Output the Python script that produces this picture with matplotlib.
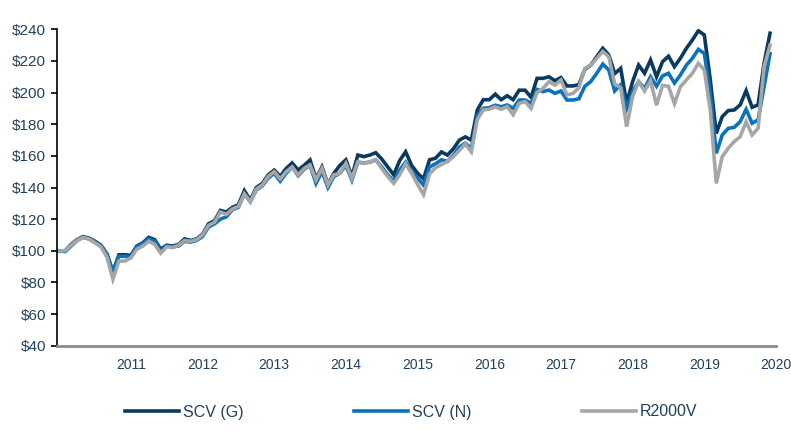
import numpy as np
import matplotlib
matplotlib.use('Agg')
import matplotlib.pyplot as plt

# growth of $100, monthly
scv_g = [100, 100, 104, 107, 109, 108, 106, 103.5, 98, 86.5,
         97.5, 97.5, 97, 103, 105, 108.5, 107, 101, 103.5, 103,
         104, 107.5, 106.5, 107.5, 110.5, 117, 119, 125.5, 124.5, 127.5,
         129, 138, 132, 140, 142.5, 148, 151, 147, 152, 155.5,
         151, 154, 157.4, 145.5, 153, 142, 149, 154, 157.5, 147,
         160.5, 159.5, 160.5, 162, 158, 153, 148, 157, 162.6, 154,
         149, 145.5, 157.5, 158.5, 162.5, 160.5, 164.5, 170, 172, 170,
         189, 195.5, 195.5, 199, 195.5, 198, 195.5, 201.5, 201.5, 197,
         209, 209, 210, 207.5, 209.5, 204.2, 204.2, 205, 214.7, 217.4,
         222.7, 228, 223.8, 212, 215.3, 193.2, 207, 217.4, 212.2, 220.6,
         210, 219.5, 223, 216.4, 221.7, 228, 233.2, 239.1, 236.4, 208,
         174.2, 184.8, 188.6, 189, 192.2, 201.2, 190.7, 192.2, 218.5, 237.5]

scv_n = [100, 99.5, 103, 106.5, 108.5, 107.5, 105.5, 103, 97.5, 87,
         96.5, 96.5, 96, 102.5, 104.5, 107.5, 106, 100, 103, 102.5,
         103, 106, 105.5, 106.5, 109, 115, 117, 120, 121.5, 126,
         127.5, 136, 131, 138.5, 141, 146, 149, 144, 149, 153,
         147.5, 151.5, 154, 142.6, 150, 140, 147, 149, 154, 144.7,
         156, 155.5, 156, 157.5, 153, 148, 144, 151, 156, 150,
         146, 141.5, 153, 155, 157.5, 156.5, 160.5, 165.5, 168, 164.5,
         185.5, 190, 190.5, 192, 191, 192.2, 190, 195.3, 195.3, 193.2,
         202, 200.6, 201.6, 199.5, 201, 195.3, 195.3, 196, 204, 207,
         212.2, 218, 214.3, 201, 205, 190, 200.6, 206.9, 202.7, 210,
         204, 210.5, 212.2, 206, 211.1, 217.4, 221.6, 227.3, 224.8, 199.5,
         161.6, 173.2, 177.4, 178, 181.6, 189.4, 180.6, 182.7, 203.7, 224.6]

r2000v = [100, 100, 103.5, 106.5, 108.5, 107.5, 105, 102.5, 96, 82,
          93.5, 93.5, 95.5, 101, 103, 106, 104, 98.5, 102.5, 102,
          103.5, 106.5, 106, 107, 110, 116, 118, 124.5, 123, 126.5,
          128, 136, 131, 139, 141.5, 147, 150, 145.5, 150, 153,
          148, 152, 154.2, 144.8, 152, 141.6, 148, 149, 155.3, 145.8,
          156.3, 155.3, 156.3, 157.4, 152, 147, 142.6, 148, 155, 149,
          142, 135.5, 148.5, 152.5, 154.5, 156.5, 159.5, 163.5, 167.5, 162.5,
          183, 189, 189.5, 191, 189.5, 191.1, 186, 193.2, 194.3, 190,
          200, 202.7, 206.9, 204.8, 208, 198.5, 199.5, 203, 215.3, 217.4,
          221.6, 226, 222.7, 205.5, 203, 178.5, 197.4, 206.9, 201, 207.5,
          192, 204.5, 204, 193, 203.7, 208, 212.2, 218.5, 214.3, 189,
          142.6, 159.5, 164.8, 169, 172.1, 181.6, 173.2, 177.4, 216.4, 230]

years = list(range(2011, 2021))
labels = ['SCV (G)', 'SCV (N)', 'R2000V']
colors = ['#0b3a5e', '#0b72bb', '#a6a6a6']

t = 2010 + np.arange(len(scv_g)) / 12.0
txtColor = '#23405f'
plt.rcParams['font.family'] = ['Liberation Sans', 'DejaVu Sans']

fig = plt.figure(figsize=(7.91, 4.38), dpi=100)
ax = fig.add_axes([57/791, 1 - 345.7/438, (776 - 57)/791, (345.7 - 29.3)/438])

# dark first, gray on top
for series, lab, col in zip([scv_g, scv_n, r2000v], labels, colors):
    ax.plot(t, series, color=col, lw=2.6, label=lab, solid_joinstyle='miter')

ax.set_xlim(2009.97, 2020.0)
ax.set_ylim(40, 240)
ax.set_yticks(np.arange(40, 241, 20))
ax.set_yticklabels(['${}'.format(v) for v in range(40, 241, 20)])
ax.set_xticks(years)
ax.set_xticklabels([str(y) for y in years])

ax.spines['top'].set_visible(False)
ax.spines['right'].set_visible(False)
ax.spines['left'].set_color('black')
ax.spines['left'].set_linewidth(1.2)
ax.spines['bottom'].set_color('#8c8c8c')
ax.spines['bottom'].set_linewidth(2)

ax.tick_params(axis='y', length=4, width=1.2, color='black', labelsize=11,
               labelcolor=txtColor, pad=4)
ax.tick_params(axis='x', length=0, labelsize=10, labelcolor=txtColor, pad=9)

fig.legend(loc='center', bbox_to_anchor=(411/791, 1 - 412/438), ncol=3,
           frameon=False, fontsize=11.5, handlelength=3.4, handletextpad=0.25,
           columnspacing=6.9, labelcolor=txtColor)

fig.savefig('out.png', dpi=100)
